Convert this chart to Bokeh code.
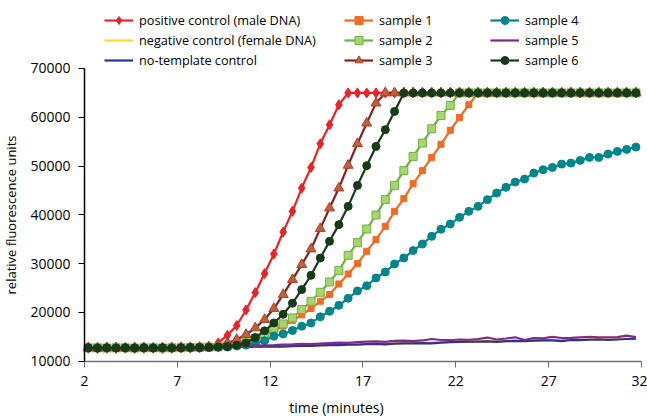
from bokeh.plotting import figure
from bokeh.models import Legend, LegendItem, Label, FixedTicker, Range1d, PrintfTickFormatter
from bokeh.embed import file_html
from bokeh.resources import INLINE

time_min = [2.2, 2.7, 3.2, 3.7, 4.2, 4.7, 5.2, 5.7, 6.2, 6.7,
            7.2, 7.7, 8.2, 8.7, 9.2, 9.7, 10.2, 10.7, 11.2, 11.7,
            12.2, 12.7, 13.2, 13.7, 14.2, 14.7, 15.2, 15.7, 16.2, 16.7,
            17.2, 17.7, 18.2, 18.7, 19.2, 19.7, 20.2, 20.7, 21.2, 21.7,
            22.2, 22.7, 23.2, 23.7, 24.2, 24.7, 25.2, 25.7, 26.2, 26.7,
            27.2, 27.7, 28.2, 28.7, 29.2, 29.7, 30.2, 30.7, 31.2, 31.7]

positive_control = [12650, 12600, 12650, 12600, 12650, 12600, 12650, 12650, 12600, 12650,
                    12700, 12700, 12750, 13000, 13750, 15330, 17310, 20500, 24070, 27960,
                    31980, 36480, 40720, 45490, 49730, 54590, 58480, 62570, 65000, 65000,
                    65000, 65000, 65000, 65000, 65000, 65000, 65000, 65000, 65000, 65000,
                    65000, 65000, 65000, 65000, 65000, 65000, 65000, 65000, 65000, 65000,
                    65000, 65000, 65000, 65000, 65000, 65000, 65000, 65000, 65000, 65000]

negative_control = [12750, 12700, 12750, 12700, 12750, 12700, 12750, 12750, 12700, 12750,
                    12750, 12800, 12800, 12850, 12850, 12900, 12950, 13000, 13000, 13050,
                    13100, 13150, 13200, 13250, 13200, 13300, 13350, 13400, 13450, 13450,
                    13550, 13600, 13500, 13650, 13700, 13700, 13750, 13850, 13800, 13950,
                    14000, 14000, 14050, 14100, 14150, 14100, 14200, 14150, 14250, 14300,
                    14300, 14350, 14400, 14350, 14450, 14500, 14450, 14500, 14600, 14600]

no_template = [12700, 12700, 12700, 12750, 12700, 12700, 12700, 12750, 12700, 12700,
               12750, 12750, 12800, 12800, 12850, 12850, 12900, 12950, 12950, 13000,
               13050, 13000, 13100, 13150, 13150, 13250, 13300, 13300, 13400, 13400,
               13500, 13550, 13450, 13600, 13650, 13650, 13700, 13650, 13800, 13900,
               13950, 14000, 14000, 14050, 13950, 14100, 14150, 14100, 14200, 14250,
               14250, 14100, 14350, 14300, 14400, 14450, 14350, 14450, 14550, 14600]

sample_1 = [12700, 12750, 12700, 12750, 12700, 12750, 12700, 12750, 12750, 12700,
            12750, 12800, 12800, 12850, 12900, 13050, 13300, 13700, 14300, 15200,
            16200, 17200, 18300, 19500, 20800, 22290, 23660, 25830, 27880, 30010,
            32530, 34920, 37650, 40720, 43320, 46390, 49060, 51780, 54450, 57330,
            59970, 62570, 65000, 65000, 65000, 65000, 65000, 65000, 65000, 65000,
            65000, 65000, 65000, 65000, 65000, 65000, 65000, 65000, 65000, 65000]

sample_2 = [12750, 12750, 12700, 12750, 12750, 12700, 12750, 12750, 12700, 12750,
            12750, 12800, 12850, 12900, 12950, 13150, 13500, 14000, 14700, 15700,
            16820, 17640, 18870, 20590, 22290, 24130, 26240, 28570, 31710, 34300,
            37100, 39950, 43120, 46040, 49060, 51980, 54710, 57650, 60350, 62430,
            65000, 65000, 65000, 65000, 65000, 65000, 65000, 65000, 65000, 65000,
            65000, 65000, 65000, 65000, 65000, 65000, 65000, 65000, 65000, 65000]

sample_3 = [12750, 12700, 12750, 12750, 12700, 12750, 12750, 12700, 12750, 12750,
            12800, 12800, 12850, 12900, 13150, 13700, 14440, 15470, 16820, 18540,
            20790, 23660, 26730, 29800, 33000, 37180, 41400, 45490, 50140, 54590,
            58800, 62900, 65000, 65000, 65000, 65000, 65000, 65000, 65000, 65000,
            65000, 65000, 65000, 65000, 65000, 65000, 65000, 65000, 65000, 65000,
            65000, 65000, 65000, 65000, 65000, 65000, 65000, 65000, 65000, 65000]

sample_4 = [12750, 12700, 12750, 12750, 12700, 12750, 12700, 12750, 12750, 12700,
            12750, 12750, 12800, 12800, 12850, 12900, 13100, 13300, 13600, 14200,
            15120, 15590, 16290, 17170, 17840, 19100, 20250, 21450, 22900, 24400,
            25460, 27070, 28290, 29930, 31160, 32670, 34020, 35600, 37050, 38120,
            39490, 40720, 41740, 43120, 44470, 45640, 46720, 47330, 48560, 49250,
            49730, 50400, 50610, 51160, 51780, 51780, 52450, 53010, 53420, 53890]

sample_5 = [12800, 12750, 12800, 12800, 12750, 12800, 12800, 12750, 12800, 12850,
            12850, 12850, 12900, 12950, 12950, 13000, 13050, 13100, 13200, 13250,
            13300, 13400, 13450, 13550, 13500, 13600, 13700, 13800, 13750, 13900,
            14000, 14050, 13950, 14150, 14200, 14100, 14250, 14550, 14350, 14300,
            14450, 14400, 14550, 14850, 14450, 14650, 14900, 14350, 14750, 14700,
            15000, 14750, 14800, 14900, 15000, 14900, 14900, 14950, 15250, 14950]

sample_6 = [12750, 12700, 12750, 12700, 12750, 12700, 12750, 12700, 12750, 12700,
            12750, 12800, 12800, 12850, 12900, 13000, 13300, 13750, 14850, 16220,
            17840, 19620, 21880, 24680, 27600, 31160, 34580, 37990, 41740, 46040,
            50080, 54030, 57450, 61200, 65000, 65000, 65000, 65000, 65000, 65000,
            65000, 65000, 65000, 65000, 65000, 65000, 65000, 65000, 65000, 65000,
            65000, 65000, 65000, 65000, 65000, 65000, 65000, 65000, 65000, 65000]

x_ticks = [2, 7, 12, 17, 22, 27, 32]
y_ticks = [10000, 20000, 30000, 40000, 50000, 60000, 70000]

FONT = "Open Sans"

# the frame fills the whole canvas; both axes are pinned at (2, 10000)
p = figure(width=647, height=416, output_backend="svg", toolbar_location=None,
           x_range=Range1d(-2.524, 32.323), y_range=Range1d(-1336, 83939),
           min_border_left=0, min_border_right=0, min_border_top=0, min_border_bottom=0)
p.outline_line_color = None
p.xgrid.visible = False
p.ygrid.visible = False
p.background_fill_color = "white"

for ax in (p.xaxis[0], p.yaxis[0]):
    ax.minor_tick_line_color = None
    ax.major_tick_in = 0
    ax.major_tick_out = 6
    ax.major_label_text_font = FONT
    ax.major_label_text_font_size = "14px"
    ax.major_label_text_color = "black"
    ax.axis_label_text_font = FONT
    ax.axis_label_text_font_style = "normal"
    ax.axis_label_text_color = "black"

p.xaxis.ticker = FixedTicker(ticks=x_ticks)
p.xaxis.bounds = (2, 32)
p.xaxis.fixed_location = 10000
p.yaxis.ticker = FixedTicker(ticks=y_ticks)
p.yaxis.bounds = (10000, 70000)
p.yaxis.fixed_location = 2
p.yaxis.formatter = PrintfTickFormatter(format="%d")
p.xaxis.axis_line_color = "#6d6e71"
p.xaxis.major_tick_line_color = "#6d6e71"
p.xaxis.axis_line_width = 1.5
p.yaxis.axis_line_color = "black"
p.yaxis.major_tick_line_color = "black"
p.yaxis.axis_line_width = 1.5
p.xaxis.major_label_standoff = 9
p.yaxis.major_label_standoff = 8
p.yaxis.axis_label = "relative fluorescence units"
p.yaxis.axis_label_text_font_size = "13px"
p.yaxis.axis_label_standoff = 7

series = [
    ("positive control (male DNA)", positive_control, "#ec2227", "diamond", 10, "#ec2227", "#ec2227"),
    ("negative control (female DNA)", negative_control, "#f7e11b", None, 0, None, None),
    ("no-template control", no_template, "#2e3192", None, 0, None, None),
    ("sample 1", sample_1, "#f26b21", "square", 6, "#f26b21", "#f26b21"),
    ("sample 2", sample_2, "#6db33f", "square", 8, "#6db33f", "#a9d46f"),
    ("sample 3", sample_3, "#8c1d1d", "triangle", 10, "#a8432b", "#c0603a"),
    ("sample 4", sample_4, "#00868b", "circle", 8, "#00868b", "#00868b"),
    ("sample 5", sample_5, "#832a86", None, 0, None, None),
    ("sample 6", sample_6, "#173b19", "circle", 8, "#173b19", "#173b19"),
]

items = []
for label, vals, color, marker, size, mline, mfill in series:
    rs = [p.line(time_min, vals, line_color=color, line_width=2.2)]
    if marker:
        rs.append(p.scatter(time_min, vals, marker=marker, size=size,
                            line_color=mline, fill_color=mfill, line_width=1))
    items.append(LegendItem(label=label, renderers=rs))

col_x = [104, 344, 490]
for ci in range(3):
    leg = Legend(items=items[ci * 3:(ci + 1) * 3], location=(col_x[ci], 346),
                 orientation="vertical", border_line_color=None,
                 background_fill_alpha=0, padding=0, margin=0, spacing=0,
                 label_text_font=FONT, label_text_font_size="12.7px",
                 label_text_color="black",
                 glyph_width=29, glyph_height=20, label_height=20,
                 label_standoff=6)
    p.add_layout(leg)

xlab = Label(x=15.57, y=9, x_units="data", y_units="screen",
             text="time (minutes)", text_align="center", text_baseline="middle",
             text_font=FONT, text_font_size="14px", text_color="black")
p.add_layout(xlab)

open("out.html", "w").write(file_html(p, INLINE))
